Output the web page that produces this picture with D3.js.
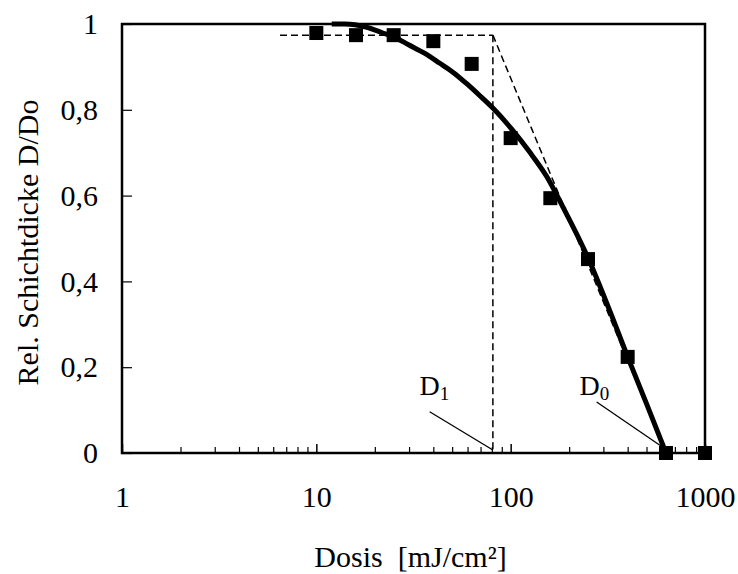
<!DOCTYPE html>
<html>
<head>
<meta charset="utf-8">
<script src="https://cdn.jsdelivr.net/npm/d3@7"></script>
<style>
  body { margin: 0; background: #fff; }
  svg text { font-family: "Liberation Serif", "Times New Roman", serif; fill: #000; }
</style>
</head>
<body>
<div class="chart"></div>
<script>
// measured points
const doses = [10, 16, 25, 40, 63, 100, 160, 250, 400, 630, 1000]
const thickness = [0.979, 0.974, 0.974, 0.96, 0.907, 0.734, 0.594, 0.452, 0.224, 0, 0]

// fitted curve
const fitDose = [12, 14, 18, 22, 25, 30, 36, 43, 51, 59, 69, 81, 102, 125, 153, 185, 250, 320, 400, 500, 630]
const fitValue = [1, 1, 0.993, 0.979, 0.97, 0.951, 0.932, 0.909, 0.886, 0.862, 0.834, 0.804, 0.753, 0.702, 0.645, 0.575, 0.455, 0.337, 0.224, 0.115, 0]

// construction lines: plateau, D1, D0
const plateau = 0.974
const plateauStart = 6.5
const D1 = 81
const D0 = 630

const xTicks = [1, 10, 100, 1000]
const xTickLabels = ['1', '10', '100', '1000']
const yTicks = [0, 0.2, 0.4, 0.6, 0.8, 1]
const yTickLabels = ['0', '0,2', '0,4', '0,6', '0,8', '1']

const width = 738
const height = 574
const m = {left: 122, right: 33, top: 24, bottom: 121}

const svg = d3.select('.chart').append('svg').attr('width', width).attr('height', height)

const x = d3.scaleLog().domain([1, 1000]).range([m.left, width - m.right])
const y = d3.scaleLinear().domain([0, 1]).range([height - m.bottom, m.top])

// minor ticks on the log axis
let minor = []
for (let dec = 1; dec < 1000; dec *= 10) {
    for (let k = 2; k <= 9; k++) minor.push(dec * k)
}

svg.append('g')
    .attr('transform', `translate(0,${y(0)})`)
    .call(d3.axisBottom(x).tickValues(minor).tickSize(-6).tickFormat(''))
    .call(g => g.select('.domain').remove())
    .call(g => g.selectAll('line').attr('stroke-width', 1.2))

svg.append('g')
    .attr('transform', `translate(0,${y(0)})`)
    .call(d3.axisBottom(x).tickValues(xTicks).tickSize(-9).tickPadding(33)
        .tickFormat((d, i) => xTickLabels[i]))
    .call(g => g.select('.domain').remove())
    .call(g => g.selectAll('line').attr('stroke-width', 1.5))
    .call(g => g.selectAll('text').attr('font-size', 30).attr('font-family', null))

svg.append('g')
    .attr('transform', `translate(${x(1)},0)`)
    .call(d3.axisLeft(y).tickValues(yTicks).tickSize(-10).tickPadding(24)
        .tickFormat((d, i) => yTickLabels[i]))
    .call(g => g.select('.domain').remove())
    .call(g => g.selectAll('line').attr('stroke-width', 1.2))
    .call(g => g.selectAll('text').attr('font-size', 30).attr('font-family', null))

// frame
svg.append('rect')
    .attr('x', x(1)).attr('y', y(1))
    .attr('width', x(1000) - x(1)).attr('height', y(0) - y(1))
    .attr('fill', 'none').attr('stroke', '#000').attr('stroke-width', 2.5)

// dashed construction lines
const dashed = [
    [[plateauStart, plateau], [D1, plateau]],
    [[D1, plateau], [D1, 0]],
    [[D1, plateau], [D0, 0]]
]
dashed.forEach(seg => {
    svg.append('line')
        .attr('x1', x(seg[0][0])).attr('y1', y(seg[0][1]))
        .attr('x2', x(seg[1][0])).attr('y2', y(seg[1][1]))
        .attr('stroke', '#000').attr('stroke-width', 1.5)
        .attr('stroke-dasharray', '7,4')
})

// fit curve
const fit = fitDose.map((d, i) => ({dose: d, value: fitValue[i]}))
const line = d3.line()
    .x(d => x(d.dose))
    .y(d => y(d.value))
    .curve(d3.curveMonotoneX)

svg.append('path')
    .datum(fit)
    .attr('d', line)
    .attr('fill', 'none')
    .attr('stroke', '#000')
    .attr('stroke-width', 5)

// markers
const pts = doses.map((d, i) => ({dose: d, value: thickness[i]}))
const s = 14
svg.selectAll('rect.pt')
    .data(pts)
    .enter().append('rect')
    .attr('class', 'pt')
    .attr('x', d => x(d.dose) - s / 2)
    .attr('y', d => y(d.value) - s / 2)
    .attr('width', s).attr('height', s)
    .attr('fill', '#000')

// D1 / D0 labels with leader lines
const notes = [
    {name: '1', lx: 34, ly: 0.135, from: [38.3, 0.096], to: [81, 0.007]},
    {name: '0', lx: 226, ly: 0.135, from: [277, 0.119], to: [604, 0.014]}
]
notes.forEach(n => {
    const t = svg.append('text')
        .attr('x', x(n.lx)).attr('y', y(n.ly))
        .attr('font-size', 28)
    t.append('tspan').text('D')
    t.append('tspan').attr('font-size', 19).attr('dy', 5).text(n.name)
    svg.append('line')
        .attr('x1', x(n.from[0])).attr('y1', y(n.from[1]))
        .attr('x2', x(n.to[0])).attr('y2', y(n.to[1]))
        .attr('stroke', '#000').attr('stroke-width', 1.3)
})

// axis titles
svg.append('text')
    .attr('x', (x(1) + x(1000)) / 2 - 3)
    .attr('y', 567)
    .attr('text-anchor', 'middle')
    .attr('font-size', 30)
    .style('white-space', 'pre')
    .text('Dosis  [mJ/cm²]')

svg.append('text')
    .attr('transform', `translate(38,${(y(0) + y(1)) / 2 + 4}) rotate(-90)`)
    .attr('text-anchor', 'middle')
    .attr('font-size', 30)
    .text('Rel. Schichtdicke D/Do')
</script>
</body>
</html>
